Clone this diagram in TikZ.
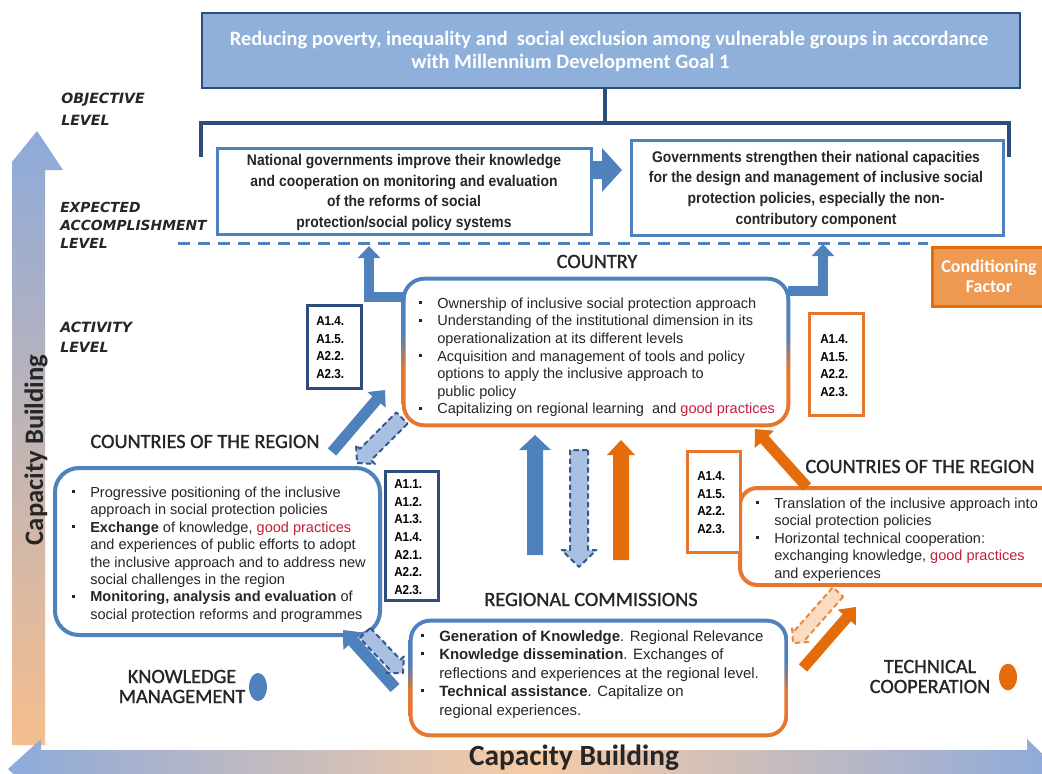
\documentclass[tikz,border=0pt]{standalone}
\usepackage{fontspec}
\setmainfont{Liberation Sans}
\newfontfamily\calfont{Carlito}
\newfontfamily\calhead[FakeBold=1.2]{Carlito}
\newfontfamily\narrowfont[FakeStretch=0.9]{Liberation Sans}
\newfontfamily\dejafont{DejaVu Sans}
\usetikzlibrary{arrows.meta,calc,fit,shapes.geometric}
\definecolor{mblue}{HTML}{4F81BD}
\definecolor{navy}{HTML}{2C4D7E}
\definecolor{topfill}{HTML}{8EB0DB}
\definecolor{lblue}{HTML}{A9C0E2}
\definecolor{dblue}{HTML}{35598F}
\definecolor{morange}{HTML}{E46C0A}
\definecolor{borange}{HTML}{E8772E}
\definecolor{lorange}{HTML}{F9DCC2}
\definecolor{dorange}{HTML}{E98B3F}
\definecolor{condfill}{HTML}{EF9A52}
\definecolor{gp}{HTML}{C41E3A}
\definecolor{txt}{HTML}{262626}
\definecolor{shtop}{HTML}{8DAADB}
\definecolor{shbot}{HTML}{F5BE8E}
\definecolor{shmid}{HTML}{F7CBA5}
\pgfdeclareverticalshading{boshade}{100bp}{color(0bp)=(borange); color(44bp)=(borange); color(56bp)=(mblue); color(100bp)=(mblue)}
\newlength\bulw
\setlength\bulw{13.5pt}
\newcommand\bul{\strut\makebox[\bulw][l]{\raisebox{0.3em}{\rule{0.2em}{0.2em}}}}
\newcommand\cont{\strut\hspace*{\bulw}}
% block arrow: style, from, to, shaft half width, head half width, head length
\newcommand\blockarr[6]{%
  \coordinate (ahb) at ($(#3)!#6!(#2)$);
  \path[#1] ($(#2)!#4!90:(#3)$) -- ($(ahb)!#4!90:(#3)$) -- ($(ahb)!#5!90:(#3)$) -- (#3) -- ($(ahb)!#5!-90:(#3)$) -- ($(ahb)!#4!-90:(#3)$) -- ($(#2)!#4!-90:(#3)$) -- cycle;}
\tikzset{
  lvl/.style={anchor=north west, inner sep=0, align=left, text=txt},
  heading/.style={inner sep=0, text=txt, font={\calhead\fontsize{15.2pt}{15pt}\selectfont}},
  bultxt/.style={anchor=north west, inner sep=0, align=left, text=txt},
  acode/.style={anchor=north west, inner sep=0, align=left, text=black, font={\narrowfont\bfseries\fontsize{9.75pt}{13.3pt}\selectfont}},
  bluebox/.style={inner sep=0, draw=mblue, line width=2.25pt, fill=white},
  navybox/.style={inner sep=0, draw=navy, line width=2.25pt, fill=white},
  orangebox/.style={inner sep=0, draw=borange, line width=2.25pt, fill=white},
  solidblue/.style={fill=mblue},
  solidorange/.style={fill=morange},
  dashblue/.style={fill=lblue, draw=dblue, line width=1.5pt, dash pattern=on 4pt off 2.5pt, line join=round},
  dashorange/.style={fill=lorange, draw=dorange, line width=1.5pt, dash pattern=on 4pt off 2.5pt, line join=round},
  lconn/.style={draw=mblue, line width=7.5pt, line join=miter, -{Triangle[width=16.5pt,length=9pt]}},
}
\begin{document}
\begin{tikzpicture}[x=0.75pt,y=-0.75pt]
\clip (0,0) rectangle (1042,774);
\fill[white] (0,0) rectangle (1042,774);

% big capacity-building arrows
\shade[top color=shtop, bottom color=shbot] (12,745) -- (12,162) -- (37,131) -- (63,170) -- (45,170) -- (45,745) -- cycle;
\shade[left color=shtop, right color=shtop, middle color=shmid] (8,769) -- (41,739) -- (41,750) -- (1027,750) -- (1027,739) -- (1058,769) -- (1027,799) -- (1027,788) -- (41,788) -- (41,799) -- cycle;
\node[rotate=90, anchor=base, inner sep=0, text=txt, font={\calfont\bfseries\fontsize{20pt}{22pt}\selectfont}] (cbV) at (43,450) {Capacity Building};
\node[anchor=base, inner sep=0, text=txt, font={\calfont\bfseries\fontsize{22pt}{24pt}\selectfont}] (cbH) at (574,765) {Capacity Building};

% goal
\node[fit={(202,13) (1020,88)}, inner sep=0, draw=navy, fill=topfill, line width=2pt] (goal) {};
\node[inner sep=0, align=center, text=white, font={\calfont\bfseries\fontsize{15.3pt}{17.25pt}\selectfont}] (goaltxt) at (609,52.9) {\strut Reducing poverty, inequality and \ social exclusion among vulnerable groups in accordance\\ \strut with Millennium Development Goal 1\hspace*{58pt}};

% bracket
\coordinate (brT) at (605,123);
\coordinate (brL) at (201,157);
\coordinate (brR) at (1009,157);
\draw[navy, line width=3pt] (brT |- goal.south) -- (brT);
\draw[navy, line width=3pt] (brL) |- (brT) -| (brR);

% level labels
\node[lvl, font={\dejafont\bfseries\itshape\fontsize{10.6pt}{16.5pt}\selectfont}] (lvobj) at (61,87.6) {\strut OBJECTIVE\\ \strut LEVEL};
\node[lvl, font={\dejafont\bfseries\itshape\fontsize{10.4pt}{13.5pt}\selectfont}] (lvexp) at (60,199.4) {\strut EXPECTED\\ \strut ACCOMPLISHMENT\\ \strut LEVEL};
\node[lvl, font={\dejafont\bfseries\itshape\fontsize{10.6pt}{15pt}\selectfont}] (lvact) at (60,318) {\strut ACTIVITY\\ \strut LEVEL};

% expected accomplishments
\node[fit={(217,148) (591,234)}, bluebox] (exL) {};
\node[fit={(631,140) (1003,235)}, bluebox] (exR) {};
\node[inner sep=0, align=center, text=txt, font={\narrowfont\bfseries\fontsize{11.6pt}{15.4pt}\selectfont}] (exLtxt) at (404,192.6) {\strut National governments improve their knowledge\\ \strut and cooperation on monitoring and evaluation\\ \strut of the reforms of social\\ \strut protection/social policy systems};
\node[inner sep=0, align=center, text=txt, font={\narrowfont\bfseries\fontsize{11.6pt}{15.5pt}\selectfont}] (exRtxt) at (816,189) {\strut Governments strengthen their national capacities\\ \strut for the design and management of inclusive social\\ \strut protection policies, especially the non-\\ \strut contributory component};
\coordinate (ea1) at (591,170);
\coordinate (ea2) at (622,170);
\blockarr{solidblue}{ea1}{ea2}{6.75pt}{16.5pt}{15pt}

% dashed level line
\coordinate (dl1) at (178,243);
\coordinate (dl2) at (928,243);
\draw[mblue, line width=2.25pt, dash pattern=on 9pt off 6pt] (dl1) -- (dl2);

% conditioning factor
\node[fit={(932,247) (1050,306)}, inner sep=0, draw=morange, fill=condfill, line width=2.25pt] (cond) {};
\node[inner sep=0, align=center, text=white, font={\calfont\bfseries\fontsize{13.5pt}{15pt}\selectfont}] (condtxt) at (989,278) {\strut Conditioning\\ \strut Factor};

% L connectors from country to expected level
\coordinate (cLs) at (404,297);
\coordinate (cLe) at (369,246);
\coordinate (cRs) at (788,291);
\coordinate (cRe) at (823,244);
\draw[lconn] (cLs) -| (cLe);
\draw[lconn] (cRs) -| (cRe);

% country box
\node[fit={(402,277) (790,427)}, inner sep=0] (country) {};
\shade[shading=boshade, rounded corners=17pt] (country.south west) rectangle (country.north east);
\fill[white, rounded corners=14pt] ([shift={(3pt,3pt)}]country.south west) rectangle ([shift={(-3pt,-3pt)}]country.north east);
\node[heading, anchor=base] (countryh) at (597,268) {COUNTRY};
\node[bultxt, font={\fontsize{10.9pt}{13.2pt}\selectfont}] (ctxt) at (419,295.7) {\bul Ownership of inclusive social protection approach\\ \bul Understanding of the institutional dimension in its\\ \cont operationalization at its different levels\\ \bul Acquisition and management of tools and policy\\ \cont options to apply the inclusive approach to\\ \cont public policy\\ \bul Capitalizing on regional learning \ and \textcolor{gp}{good practices}};

% regional commissions box
\node[fit={(409,619) (788,737)}, inner sep=0] (rc) {};
\shade[shading=boshade, rounded corners=16pt] (rc.south west) rectangle (rc.north east);
\fill[white, rounded corners=13pt] ([shift={(3pt,3pt)}]rc.south west) rectangle ([shift={(-3pt,-3pt)}]rc.north east);
\node[heading, anchor=base] (rch) at (591,606) {REGIONAL COMMISSIONS};
\node[bultxt, font={\fontsize{11.2pt}{13.9pt}\selectfont}] (rctxt) at (421,628) {\bul \textbf{Generation of Knowledge}. Regional Relevance\\ \bul \textbf{Knowledge dissemination}. Exchanges of\\ \cont reflections and experiences at the regional level.\\ \bul \textbf{Technical assistance}. Capitalize on\\ \cont regional experiences.};

% countries of the region (left, knowledge management)
\node[fit={(55,468) (380,635)}, bluebox, line width=3pt, rounded corners=18pt] (lreg) {};
\node[heading, anchor=base] (lregh) at (205,448) {COUNTRIES OF THE REGION};
\node[bultxt, font={\fontsize{10.9pt}{13.1pt}\selectfont}] (lregtxt) at (72,484.7) {\bul Progressive positioning of the inclusive\\ \cont approach in social protection policies\\ \bul \textbf{Exchange} of knowledge, \textcolor{gp}{good practices}\\ \cont and experiences of public efforts to adopt\\ \cont the inclusive approach and to address new\\ \cont social challenges in the region\\ \bul \textbf{Monitoring, analysis and evaluation} of\\ \cont social protection reforms and programmes};

% countries of the region (right, technical cooperation)
\node[fit={(740,488) (1060,585)}, orangebox, line width=3pt, rounded corners=13pt] (rreg) {};
\node[heading, anchor=base] (rregh) at (920,473) {COUNTRIES OF THE REGION};
\node[bultxt, font={\fontsize{10.9pt}{13.1pt}\selectfont}] (rregtxt) at (756,495.7) {\bul Translation of the inclusive approach into\\ \cont social protection policies\\ \bul Horizontal technical cooperation:\\ \cont exchanging knowledge, \textcolor{gp}{good practices}\\ \cont and experiences};

% activity code boxes
\node[fit={(307,305) (361,388)}, navybox] (ab1) {};
\node[acode] (ab1t) at (316,312.6) {\strut A1.4.\\ \strut A1.5.\\ \strut A2.2.\\ \strut A2.3.};
\node[fit={(809,313) (863,415)}, orangebox] (ab2) {};
\node[acode] (ab2t) at (820,330.6) {\strut A1.4.\\ \strut A1.5.\\ \strut A2.2.\\ \strut A2.3.};
\node[fit={(385,471) (438,600)}, navybox] (ab3) {};
\node[acode] (ab3t) at (394,475.6) {\strut A1.1.\\ \strut A1.2.\\ \strut A1.3.\\ \strut A1.4.\\ \strut A2.1.\\ \strut A2.2.\\ \strut A2.3.};
\node[fit={(687,451) (740,552)}, orangebox] (ab4) {};
\node[acode] (ab4t) at (697,467.6) {\strut A1.4.\\ \strut A1.5.\\ \strut A2.2.\\ \strut A2.3.};

% knowledge management / technical cooperation labels
\node[heading, align=center] (km) at (182,689) {\strut KNOWLEDGE\\ \strut MANAGEMENT};
\node[ellipse, inner sep=0, minimum width=13.5pt, minimum height=21pt, fill=mblue] (kmdot) at (258,687) {};
\node[heading, align=center] (tc) at (930,679) {\strut TECHNICAL\\ \strut COOPERATION};
\node[ellipse, inner sep=0, minimum width=13.5pt, minimum height=20pt, fill=morange] (tcdot) at (1008,677) {};

% middle arrows (country <-> regional commissions)
\coordinate (m1s) at (535,555); \coordinate (m1e) at (535,435);
\coordinate (m2s) at (579,450); \coordinate (m2e) at (579,567);
\coordinate (m3s) at (621,560); \coordinate (m3e) at (621,440);
\blockarr{solidblue}{m1s}{m1e}{6pt}{12pt}{11.25pt}
\blockarr{dashblue}{m2s}{m2e}{6.75pt}{13pt}{12.75pt}
\blockarr{solidorange}{m3s}{m3e}{6pt}{10.5pt}{11.25pt}

% left region <-> country
\coordinate (u1s) at (332,452); \coordinate (u1e) at (385,390);
\coordinate (u2s) at (402,418); \coordinate (u2e) at (357,463);
\blockarr{solidblue}{u1s}{u1e}{4.1pt}{9pt}{9.75pt}
\blockarr{dashblue}{u2s}{u2e}{6pt}{10pt}{9pt}

% regional commissions <-> left region
\coordinate (l1s) at (395,688); \coordinate (l1e) at (343,630);
\coordinate (l2s) at (365,633); \coordinate (l2e) at (403,673);
\blockarr{solidblue}{l1s}{l1e}{4.5pt}{9.75pt}{11.25pt}
\blockarr{dashblue}{l2s}{l2e}{5.5pt}{9pt}{8.5pt}

% right region -> country
\coordinate (o1s) at (807,487); \coordinate (o1e) at (755,429);
\blockarr{solidorange}{o1s}{o1e}{4.1pt}{9.75pt}{10.5pt}

% regional commissions <-> right region
\coordinate (r1s) at (803,668); \coordinate (r1e) at (856,607);
\coordinate (r2s) at (838,592); \coordinate (r2e) at (793,643);
\blockarr{dashorange}{r2s}{r2e}{5.25pt}{8.25pt}{8.25pt}
\blockarr{solidorange}{r1s}{r1e}{4.1pt}{9pt}{10.5pt}
\end{tikzpicture}
\end{document}
